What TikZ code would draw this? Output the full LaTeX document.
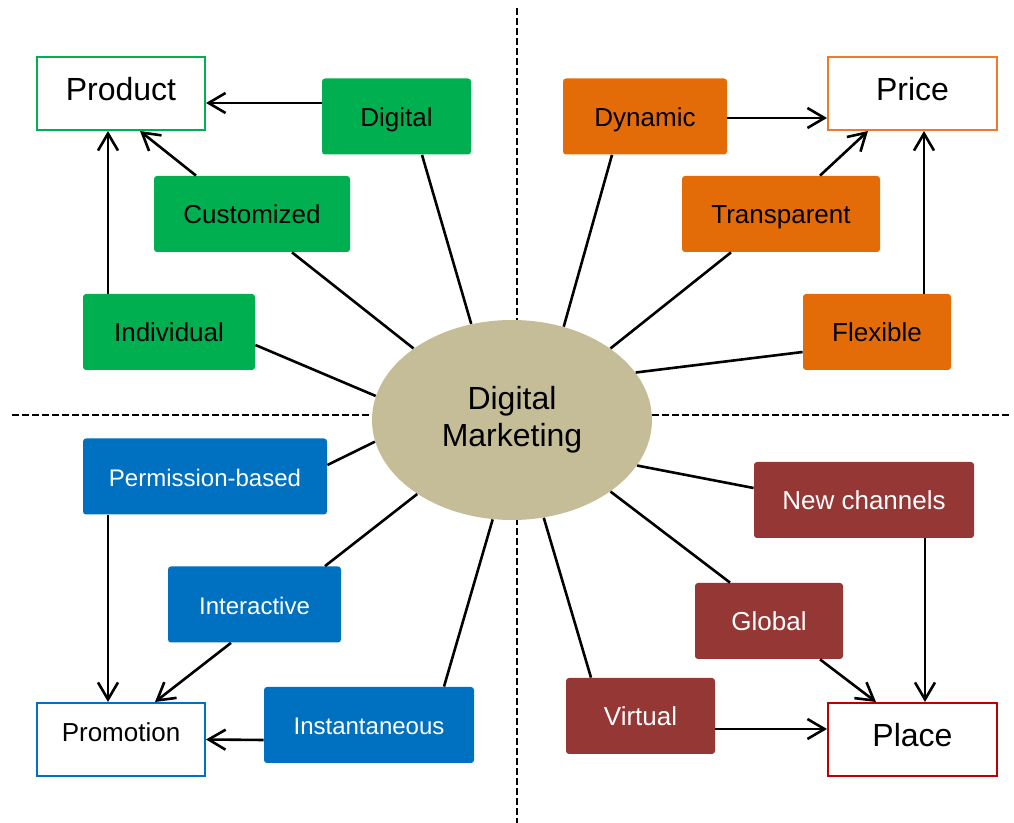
\documentclass[tikz,border=0pt]{standalone}
\usepackage{fontspec}
\setmainfont{Liberation Sans}
\usetikzlibrary{positioning,arrows.meta,shapes.geometric}
\definecolor{prodgreen}{HTML}{00B050}
\definecolor{priceorange}{HTML}{E36C09}
\definecolor{priceedge}{HTML}{EE7A2A}
\definecolor{promoblue}{HTML}{0070C0}
\definecolor{placered}{HTML}{953735}
\definecolor{placeedge}{HTML}{C00000}
\definecolor{hubtan}{HTML}{C4BD97}
\tikzset{
  corner/.style  = {rectangle, draw=#1, fill=white, line width=1pt, minimum width=84pt,
                    minimum height=36.5pt, text depth=5pt, font=\fontsize{16}{19}\selectfont},
  facet/.style   = {rectangle, rounded corners=1.5pt, fill=#1, draw=none, minimum height=38pt,
                    text height=10pt, text depth=0pt, font=\fontsize{13}{15}\selectfont},
  hub/.style     = {ellipse, fill=hubtan, draw=none, minimum width=140pt, minimum height=100pt,
                    inner sep=0pt, align=center, font=\fontsize{16}{18.5}\selectfont},
  divider/.style = {line width=1.2pt, dash pattern=on 3.5pt off 1.5pt},
  spoke/.style   = {line width=1.3pt},
  push/.style    = {line width=1.3pt, -{Straight Barb[length=8.5pt, width=10pt]}},
}
\begin{document}
\begin{tikzpicture}[x=0.5pt, y=-0.5pt]
  \useasboundingbox (0,0) rectangle (1014,823);

  % quadrant dividers, behind the hub
  \draw[divider] (517,8) -- (517,823);
  \draw[divider] (12,415) -- (1010,415);

  \node[hub] (dm) at (512,420) {Digital\\Marketing};

  % the four Ps
  \node[corner=prodgreen] (product) at (121,93.5) {Product};
  \node[corner=priceedge, minimum width=84.5pt] (price) at (912.5,93.5) {Price};
  \node[corner=promoblue, text depth=7pt, font=\fontsize{13}{15}\selectfont] (promotion) at (121,739.5) {Promotion};
  \node[corner=placeedge, minimum width=84.5pt] (place) at (912.5,739.5) {Place};

  % product side
  \node[facet=prodgreen, minimum width=74.5pt] (digital) at (396.5,116.5) {Digital};
  \node[facet=prodgreen, minimum width=98pt] (customized) at (252,214) {Customized};
  \node[facet=prodgreen, minimum width=86pt] (individual) at (169,332) {Individual};

  % price side
  \node[facet=priceorange, minimum width=82pt] (dynamic) at (645,116.5) {Dynamic};
  \node[facet=priceorange, minimum width=99pt] (transparent) at (781,214) {Transparent};
  \node[facet=priceorange, minimum width=74pt] (flexible) at (877,332) {Flexible};

  % promotion side
  \node[facet=promoblue, text=white, font=\fontsize{12}{14}\selectfont, minimum width=122pt] (permission) at (205,476.5) {Permission-based};
  \node[facet=promoblue, text=white, font=\fontsize{12}{14}\selectfont, minimum width=86.5pt] (interactive) at (254.5,604.5) {Interactive};
  \node[facet=promoblue, text=white, font=\fontsize{12}{14}\selectfont, minimum width=105pt] (instant) at (369,725) {Instantaneous};

  % place side
  \node[facet=placered, text=white, minimum width=110pt] (newch) at (864,500) {New channels};
  \node[facet=placered, text=white, minimum width=74pt] (global) at (769,621) {Global};
  \node[facet=placered, text=white, minimum width=74.5pt] (virtual) at (640.5,716) {Virtual};

  % spokes out of the hub
  \draw[spoke] (dm.113) -- ([shift={(25.5,0)}]digital.south);
  \draw[spoke] (dm.144) -- ([shift={(40,0)}]customized.south);
  \draw[spoke] (dm.170) -- ([shift={(0,13)}]individual.east);
  \draw[spoke] (dm.61) -- ([shift={(-33,0)}]dynamic.south);
  \draw[spoke] (dm.36) -- ([shift={(-50,0)}]transparent.south);
  \draw[spoke] (dm.21) -- ([shift={(0,20)}]flexible.west);
  \draw[spoke] (dm.189) -- ([shift={(0,-11.5)}]permission.east);
  \draw[spoke] (dm.218) -- ([shift={(70.5,0)}]interactive.north);
  \draw[spoke] (dm.259) -- ([shift={(75,0)}]instant.north);
  \draw[spoke] (dm.340) -- ([shift={(0,-12)}]newch.west);
  \draw[spoke] (dm.324) -- ([shift={(-39,0)}]global.north);
  \draw[spoke] (dm.288) -- ([shift={(-49.5,0)}]virtual.north);

  % arrows into the Ps
  \draw[push] ([shift={(0,-13.5)}]digital.west) -- ([shift={(0,9.5)}]product.east);
  \draw[push] ([shift={(-56,0)}]customized.north) -- ([shift={(19,0)}]product.south);
  \draw[push] ([shift={(-61,0)}]individual.north) -- ([shift={(-13,0)}]product.south);
  \draw[push] ([shift={(0,1.5)}]dynamic.east) -- ([shift={(0,24.5)}]price.west);
  \draw[push] ([shift={(39,0)}]transparent.north) -- ([shift={(-44.5,0)}]price.south);
  \draw[push] ([shift={(47,0)}]flexible.north) -- ([shift={(11.5,0)}]price.south);
  \draw[push] ([shift={(-97,0)}]permission.south) -- ([shift={(-13,0)}]promotion.north);
  \draw[push] ([shift={(-23.5,0)}]interactive.south) -- ([shift={(34,0)}]promotion.north);
  \draw[push] ([shift={(0,15)}]instant.west) -- (promotion.east);
  \draw[push] ([shift={(61,0)}]newch.south) -- ([shift={(12.5,0)}]place.north);
  \draw[push] ([shift={(51,0)}]global.south) -- ([shift={(-36.5,0)}]place.north);
  \draw[push] ([shift={(0,13)}]virtual.east) -- ([shift={(0,-10.5)}]place.west);
\end{tikzpicture}
\end{document}
